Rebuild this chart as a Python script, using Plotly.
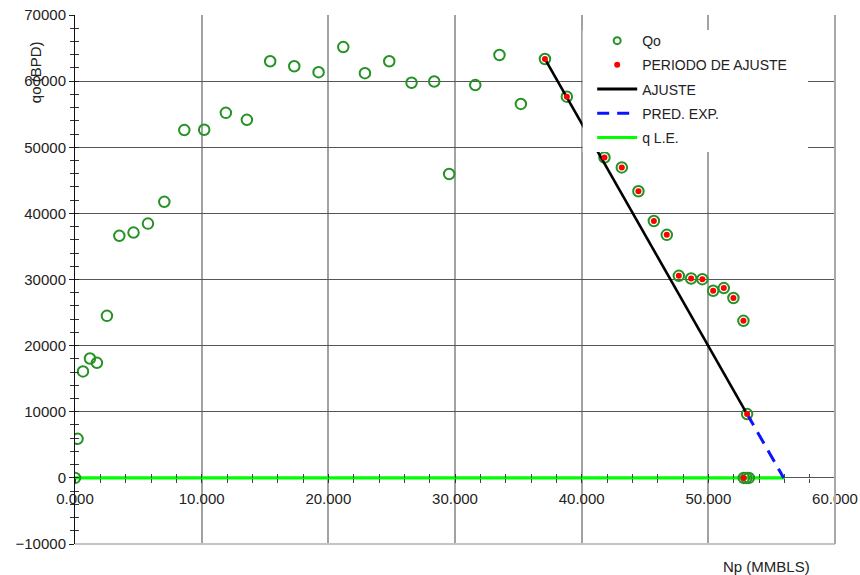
import plotly.graph_objects as go

# Cumulative production (MMBLS) and oil rate (BPD) for every month
np_all = [0.0, 0.2, 0.63, 1.18, 1.73, 2.52, 3.5, 4.62, 5.76, 7.05, 8.63, 10.2,
          11.91, 13.57, 15.41, 17.31, 19.23, 21.18, 22.89, 24.81, 26.57, 28.36,
          29.54, 31.6, 33.51, 35.2, 37.1, 38.83, 41.8, 43.17, 44.48, 45.7,
          46.72, 47.67, 48.64, 49.53, 50.38, 51.22, 51.98, 52.77, 53.06,
          52.8, 53.0, 53.2]
qo_all = [0, 5900, 16100, 18050, 17400, 24500, 36600, 37100, 38450, 41750,
          52600, 52650, 55200, 54150, 63000, 62250, 61350, 65150, 61200, 63000,
          59750, 59950, 45950, 59400, 63950, 56550, 63350, 57650, 48450, 46950,
          43350, 38850, 36750, 30550, 30150, 30050, 28300, 28700, 27200, 23750,
          9650, 0, 0, 0]

# Points used for the decline fit
np_fit = [37.1, 38.83, 41.8, 43.17, 44.48, 45.7, 46.72, 47.67, 48.64, 49.53,
          50.38, 51.22, 51.98, 52.77, 53.06, 52.8]
qo_fit = [63350, 57650, 48450, 46950, 43350, 38850, 36750, 30550, 30150,
          30050, 28300, 28700, 27200, 23750, 9650, 0]

# Fitted straight line and exponential prediction to the economic limit
np_ajuste = [37.1, 53.06]
qo_ajuste = [63350, 9650]
np_pred = [53.06, 55.95]
qo_pred = [9650, 0]

# Economic limit rate
np_le = [0.0, 56.05]
qo_le = [0, 0]

x_ticks = [0, 10, 20, 30, 40, 50, 60]
y_ticks = [-10000, 0, 10000, 20000, 30000, 40000, 50000, 60000, 70000]

GREEN = "rgb(36,146,36)"
FONT = "Liberation Sans, Arial, sans-serif"
TXT = "#222222"

fig = go.Figure()

fig.add_trace(go.Scatter(x=np_le, y=qo_le, mode="lines",
                         line=dict(color="#00ff00", width=3.2),
                         showlegend=False, hoverinfo="skip"))
fig.add_trace(go.Scatter(x=np_all, y=qo_all, mode="markers",
                         marker=dict(symbol="circle-open", size=10.5, color=GREEN,
                                     line=dict(width=2)),
                         showlegend=False))
fig.add_trace(go.Scatter(x=np_ajuste, y=qo_ajuste, mode="lines",
                         line=dict(color="black", width=2.6),
                         showlegend=False, hoverinfo="skip"))
fig.add_trace(go.Scatter(x=np_pred, y=qo_pred, mode="lines",
                         line=dict(color="#0a14ff", width=3, dash="13px,8px"),
                         showlegend=False, hoverinfo="skip"))
fig.add_trace(go.Scatter(x=np_fit, y=qo_fit, mode="markers",
                         marker=dict(symbol="circle", size=6, color="#ff0000"),
                         showlegend=False))

# Legend entries
leg = [
    dict(name="Qo", mode="markers",
         marker=dict(symbol="circle-open", size=7, color=GREEN, line=dict(width=2))),
    dict(name="PERIODO DE AJUSTE", mode="markers",
         marker=dict(symbol="circle", size=6, color="#ff0000")),
    dict(name="AJUSTE", mode="lines", line=dict(color="black", width=3)),
    dict(name="PRED. EXP.", mode="lines",
         line=dict(color="#0a14ff", width=3, dash="12px,8px")),
    dict(name="q L.E.", mode="lines", line=dict(color="#00ff00", width=3)),
]
for i, d in enumerate(leg):
    fig.add_trace(go.Scatter(x=[None], y=[None], legendgroup=f"g{i}",
                             showlegend=True, **d))

# Helper axes carrying the inner half of each tick
fig.add_trace(go.Scatter(x=[None], y=[None], xaxis="x2", yaxis="y2",
                         showlegend=False, hoverinfo="skip"))

zero_pos = 10000 / 80000

fig.update_layout(
    width=860, height=575,
    margin=dict(l=75, r=25, t=15, b=31, autoexpand=False),
    paper_bgcolor="white", plot_bgcolor="white",
    font=dict(family=FONT, size=15, color=TXT),
    xaxis=dict(range=[0, 60], anchor="free", position=zero_pos,
               automargin=False,
               tickvals=x_ticks, tickformat=".3f",
               ticks="outside", ticklen=4, tickcolor="#333", tickwidth=1,
               minor=dict(dtick=2, ticks="outside", ticklen=4, tickcolor="#444",
                          showgrid=False),
               showgrid=True, gridcolor="#a2a2a2", gridwidth=2,
               zeroline=False, showline=False,
               tickfont=dict(size=15, color=TXT), ticklabelstandoff=3),
    xaxis2=dict(range=[0, 60], overlaying="x", anchor="free", position=zero_pos,
                automargin=False,
                tickvals=x_ticks, ticks="inside", ticklen=4, tickcolor="#333",
                minor=dict(dtick=2, ticks="inside", ticklen=4, tickcolor="#444"),
                showticklabels=False, showgrid=False, zeroline=False,
                showline=False),
    yaxis=dict(range=[-10000, 70000], tickvals=y_ticks, tickformat="d",
               automargin=False,
               ticks="outside", ticklen=5, tickcolor="#222",
               minor=dict(dtick=2000, ticks="outside", ticklen=4,
                          tickcolor="#333", showgrid=False),
               showgrid=True, gridcolor="#555555", gridwidth=1,
               zeroline=False, showline=True, linecolor="#111", linewidth=1,
               tickfont=dict(size=15, color=TXT)),
    yaxis2=dict(range=[-10000, 70000], overlaying="y", anchor="x",
                automargin=False,
                tickvals=y_ticks, ticks="inside", ticklen=4, tickcolor="#222",
                minor=dict(dtick=2000, ticks="inside", ticklen=4,
                           tickcolor="#333"),
                showticklabels=False, showgrid=False, zeroline=False,
                showline=False),
    showlegend=True,
    legend=dict(x=0.6805, y=0.981, xanchor="left", yanchor="top",
                bgcolor="rgba(0,0,0,0)", borderwidth=0,
                font=dict(family=FONT, size=14, color=TXT),
                tracegroupgap=3, itemwidth=40),
    shapes=[
        # legend panel
        dict(type="rect", xref="paper", yref="paper", x0=0.668, x1=0.9645,
             y0=0.741, y1=0.9716, fillcolor="white", line=dict(width=0),
             layer="above"),
        # plot frame, bottom and right
        dict(type="line", xref="paper", yref="paper", x0=0, x1=1, y0=0, y1=0,
             line=dict(color="#c4c4c4", width=2), layer="above"),
        dict(type="line", xref="paper", yref="paper", x0=1, x1=1, y0=0, y1=1,
             line=dict(color="#a8a8a8", width=2), layer="above"),
    ],
    annotations=[
        dict(text="Np (MMBLS)", xref="paper", yref="paper", x=0.9105, y=-0.0416,
             xanchor="center", yanchor="middle", showarrow=False,
             font=dict(family=FONT, size=15, color=TXT)),
        dict(text="qo (BPD)", xref="paper", yref="paper", x=-0.0526, y=0.892,
             xanchor="center", yanchor="middle", showarrow=False, textangle=-90,
             font=dict(family=FONT, size=15, color=TXT)),
    ],
)

fig.write_html("out.html")
